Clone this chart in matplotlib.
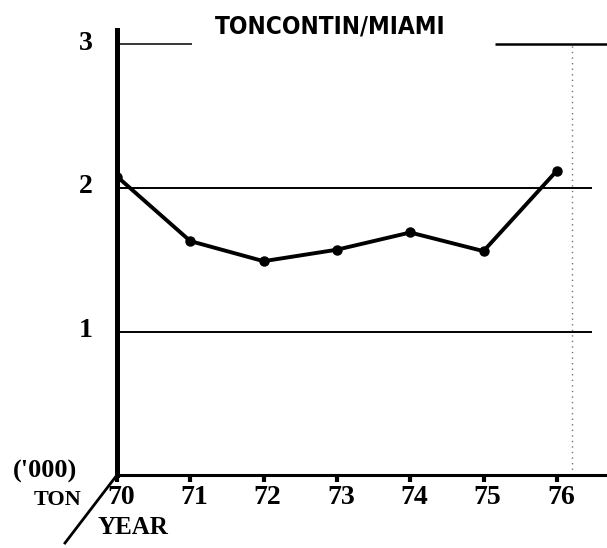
import matplotlib
matplotlib.use("Agg")
import matplotlib.pyplot as plt

years = [70, 71, 72, 73, 74, 75, 76]
year_labels = ["70", "71", "72", "73", "74", "75", "76"]
values = [2.08, 1.63, 1.49, 1.57, 1.69, 1.56, 2.12]
y_ticks = [1, 2, 3]
y_labels = ["1", "2", "3"]
title = "TONCONTIN/MIAMI"

W, H = 607, 548
X0, Y0 = 117, 475          # pixel position of origin
PX_X, PX_Y = 73.3, 143.5   # pixels per unit

fig = plt.figure(figsize=(W / 100, H / 100), dpi=100)
fig.patch.set_facecolor("white")
ax = fig.add_axes([X0 / W, (H - Y0) / H, (W - X0) / W, (Y0 - 30) / H])
ax.set_xlim(70, 70 + (W - X0) / PX_X)
ax.set_ylim(0, (Y0 - 30) / PX_Y)

def px(xp, yp):
    """pixel (from top-left) -> data coords"""
    return 70 + (xp - X0) / PX_X, (Y0 - yp) / PX_Y

for s in ["top", "right"]:
    ax.spines[s].set_visible(False)
ax.spines["left"].set_linewidth(3.6)
ax.spines["bottom"].set_linewidth(2.2)

# gridlines
ax.hlines([1, 2], 70, px(592, 0)[0], color="black", lw=1.4)
ax.hlines([3], 70, px(192, 0)[0], color="black", lw=1.1)
ax.hlines([3], px(495, 0)[0], px(607, 0)[0], color="black", lw=1.8, clip_on=False)
ax.axvline(px(572, 0)[0], color="0.45", lw=1.0, ls=(0, (1, 3)), ymax=0.97)

ax.plot(years, values, color="black", lw=2.8, marker="o", ms=6.5, zorder=5)

ax.set_xticks(years)
ax.set_xticklabels([])
ax.tick_params(axis="x", direction="out", length=5, width=3)
ax.set_yticks([])

serif = "Liberation Serif"
font = dict(family=serif, fontweight="bold", fontsize=20)
for x, lab in zip(years, year_labels):
    ax.text(x + 4 / PX_X, px(0, 498)[1], lab, ha="center", va="center", **font)
for y, lab in zip(y_ticks, y_labels):
    ax.text(px(86, 0)[0], y + 1 / PX_Y, lab, ha="center", va="center", **font)

ax.text(*px(45, 471), "('000)", ha="center", va="center",
        family=serif, fontweight="bold", fontsize=19)
ax.text(*px(58, 500), "TON", ha="center", va="center",
        family=serif, fontweight="bold", fontsize=16)
ax.text(*px(97, 527), "YEAR", ha="left", va="center",
        family=serif, fontweight="bold", fontsize=18)

# diagonal depth axis
dx, dy = px(65, 543)
ax.plot([70, dx], [0, dy], color="black", lw=2.0, clip_on=False)

fig.text(330 / W, 1 - 26 / H, title, ha="center", va="center",
         family=["Liberation Sans Narrow", "DejaVu Sans"], fontstretch="condensed",
         fontweight="bold", fontsize=17.5)

fig.savefig("out.png", dpi=100, facecolor="white")
